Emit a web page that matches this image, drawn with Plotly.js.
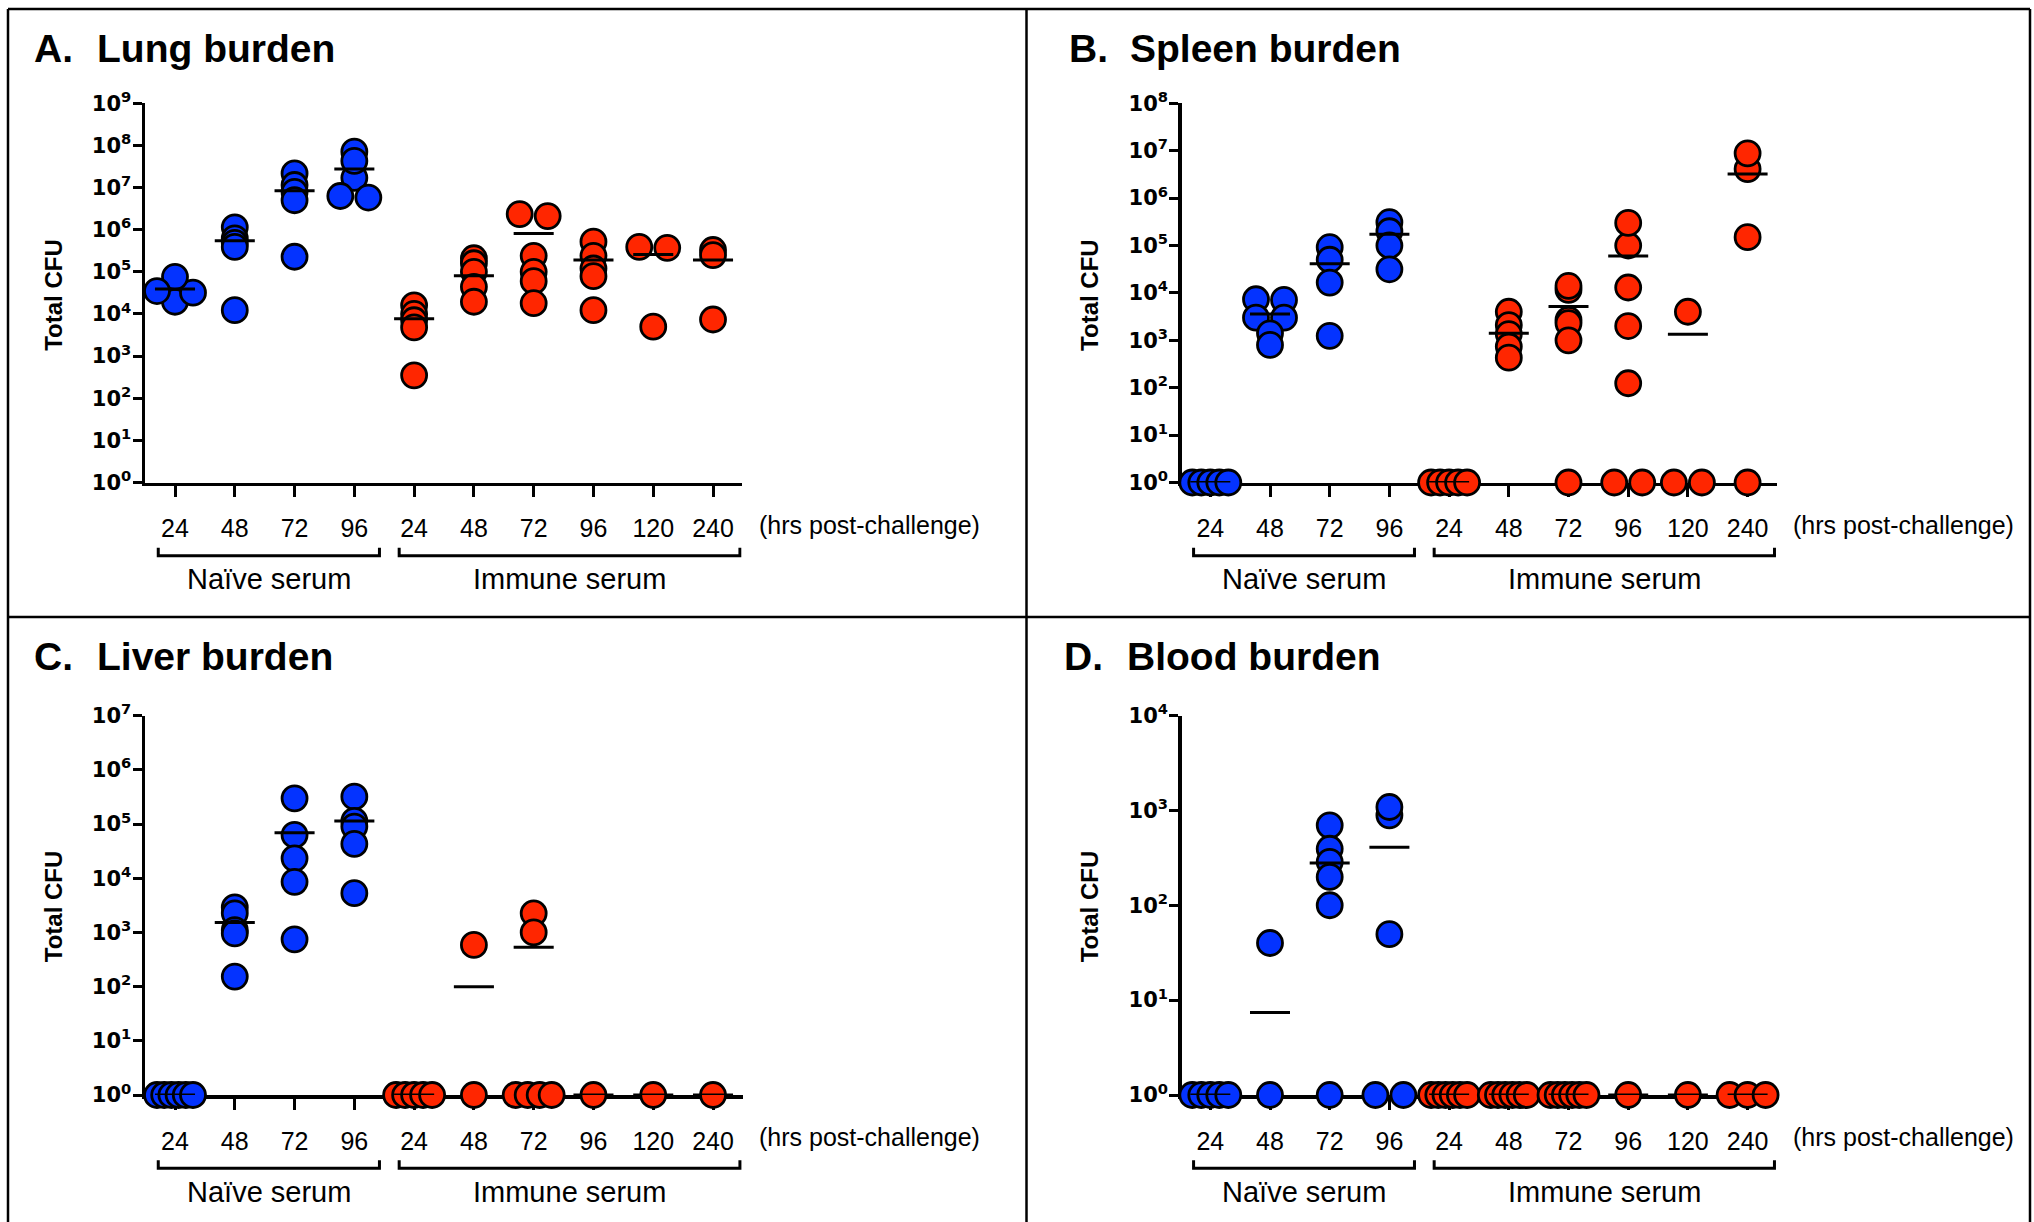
<!DOCTYPE html>
<html>
<head>
<meta charset="utf-8">
<script src="https://cdn.plot.ly/plotly-3.0.1.min.js"></script>
<style>
  html, body { margin: 0; padding: 0; background: #ffffff; }
  #chart { width: 2034px; height: 1222px; }
</style>
</head>
<body>
<div id="chart"></div>
<script>
// ---------------- DATA ----------------
const hours = ['24', '48', '72', '96', '24', '48', '72', '96', '120', '240'];
const serumGroups = ['Naïve serum', 'Immune serum'];
const naiveCount = 4;           // first 4 hour groups are naive serum

// A. Lung burden (total CFU per animal, one array per hour group)
const lungCFU = [
  [3.4e4, 5.2e4, 1.95e4, 3.2e4, 7.6e4, 3.5e4],
  [1.14e6, 6.2e5, 4.85e5, 3.9e5, 1.23e4],
  [2.17e7, 1.15e7, 7.9e6, 5.0e6, 2.28e5],
  [1.7e7, 7.1e7, 4.3e7, 5.8e6, 6.3e6],
  [1.6e4, 1.0e4, 7.1e3, 4.8e3, 350],
  [2.1e5, 1.6e5, 1.0e5, 4.4e4, 1.95e4],
  [2.1e6, 2.35e6, 2.4e5, 1.0e5, 6.0e4, 1.8e4],
  [5.2e5, 2.4e5, 1.2e5, 7.9e4, 1.23e4],
  [3.9e5, 3.7e5, 5.0e3],
  [3.3e5, 2.5e5, 7.4e3]
];
const lungMean = [3.9e4, 5.5e5, 8.4e6, 2.75e7, 7.7e3, 8.1e4, 8.1e5, 1.9e5, 2.57e5, 1.9e5];

// B. Spleen burden
const spleenCFU = [
  [1, 1, 1, 1, 1],
  [7.35e3, 7.1e3, 3.0e3, 3.0e3, 1.4e3, 800],
  [9.2e4, 5.0e4, 1.65e4, 1.24e3],
  [3.1e5, 2.0e5, 1.0e5, 3.15e4],
  [1, 1, 1, 1, 1],
  [4.0e3, 2.1e3, 1.35e3, 740, 430],
  [1.16e4, 1.4e4, 2.7e3, 2.3e3, 1.0e3, 1],
  [1.0e5, 3.0e5, 1.3e4, 2.0e3, 124, 1, 1],
  [4.0e3, 1, 1],
  [4.1e6, 8.8e6, 1.5e5, 1]
];
const spleenMean = [1, 3.6e3, 4.1e4, 1.73e5, 1, 1.4e3, 5.15e3, 6.0e4, 1.34e3, 3.24e6];

// C. Liver burden
const liverCFU = [
  [1, 1, 1, 1, 1, 1],
  [2.9e3, 2.25e3, 1.1e3, 960, 153],
  [2.99e5, 6.3e4, 2.33e4, 8.6e3, 747],
  [3.2e5, 1.15e5, 9.0e4, 4.3e4, 5.3e3],
  [1, 1, 1, 1, 1],
  [588, 1],
  [2.25e3, 1.0e3, 1, 1, 1, 1],
  [1],
  [1],
  [1]
];
const liverMean = [1, 1.52e3, 6.9e4, 1.14e5, 1, 100, 532, 1, 1, 1];

// D. Blood burden
const bloodCFU = [
  [1, 1, 1, 1, 1],
  [40, 1],
  [695, 394, 286, 199, 100, 1],
  [886, 1085, 49.6, 1, 1],
  [1, 1, 1, 1, 1, 1],
  [1, 1, 1, 1, 1, 1],
  [1, 1, 1, 1, 1, 1],
  [1],
  [1],
  [1, 1, 1]
];
const bloodMean = [1, 7.4, 279, 408, 1, 1, 1, 1, 1, 1];

const panelLetters = ['A.', 'B.', 'C.', 'D.'];
const panelTitles = ['Lung burden', 'Spleen burden', 'Liver burden', 'Blood burden'];
const yTitle = 'Total CFU';
const xNote = '(hrs post-challenge)';

// ---------------- LAYOUT / STYLE ----------------
const W = 2034, H = 1222;
const FONT = 'Liberation Sans, Arial, Helvetica, sans-serif';
const TICKFONT = 'DejaVu Sans, Liberation Sans, sans-serif';
const BLUE = '#0433FF', RED = '#FF2600';
const MARKER_SIZE = 25, MARKER_LINE = 2.8;
const MEAN_HALF = 0.335;        // half width of mean bar, in category units
const ROW_TOL = 3.0;            // px: points closer than this share a row
const ROW_STEP = 28;            // px: max spacing of points in a row
const ROW_SPAN = 36;            // px: max total width of a row

const panels = [
  { vals: lungCFU,   means: lungMean,   decades: 9, x0: 145,    x1: 741.7, c0: 175,    cstep: 59.78,
    yTop: 103.3, yBot: 482.5, letterX: 31.5, titleX: 95,   titleY: 48.9,  yTitleX: 53.2,   yTitleY: 294.6, noteX: 757 },
  { vals: spleenCFU, means: spleenMean, decades: 8, x0: 1181.7, x1: 1776.7, c0: 1210.3, cstep: 59.7,
    yTop: 103.3, yBot: 482.5, letterX: 1067, titleX: 1128, titleY: 48.9,  yTitleX: 1089.3, yTitleY: 294.6, noteX: 1791 },
  { vals: liverCFU,  means: liverMean,  decades: 7, x0: 145,    x1: 742.7, c0: 175,    cstep: 59.78,
    yTop: 715.7, yBot: 1095,  letterX: 31.5, titleX: 95,   titleY: 656.8, yTitleX: 53.2,   yTitleY: 906,   noteX: 757 },
  { vals: bloodCFU,  means: bloodMean,  decades: 4, x0: 1181.7, x1: 1778,  c0: 1210.3, cstep: 59.7,
    yTop: 715.5, yBot: 1095,  letterX: 1062, titleX: 1125, titleY: 656.8, yTitleX: 1089.3, yTitleY: 906,   noteX: 1791 }
];

// Horizontal spreading of points that share (almost) the same value
function swarmOffsets(vals, decPx) {
  const items = vals.map((v, i) => ({ i: i, y: Math.log10(v) * decPx }));
  items.sort((a, b) => b.y - a.y);
  const off = new Array(vals.length).fill(0);
  if (!items.length) return off;
  const rows = [];
  let row = [items[0]];
  for (let k = 1; k < items.length; k++) {
    if (row[row.length - 1].y - items[k].y < ROW_TOL) row.push(items[k]);
    else { rows.push(row); row = [items[k]]; }
  }
  rows.push(row);
  rows.forEach(r => {
    const n = r.length;
    if (n > 1) {
      const sp = Math.min(ROW_STEP, ROW_SPAN / (n - 1));
      r.forEach((it, j) => { off[it.i] = (j - (n - 1) / 2) * sp; });
    }
  });
  return off;
}

const px2X = x => x / W;
const px2Y = y => 1 - y / H;

const traces = [];
const meanTraces = [];
const shapes = [];
const annotations = [];
const layout = {
  width: W, height: H,
  margin: { l: 0, r: 0, t: 0, b: 0 },
  paper_bgcolor: '#ffffff', plot_bgcolor: 'rgba(0,0,0,0)',
  showlegend: false, hovermode: false,
  font: { family: FONT, color: '#000000', size: 25 }
};

panels.forEach((p, k) => {
  const sfx = k === 0 ? '' : String(k + 1);
  const xa = 'x' + sfx, ya = 'y' + sfx;
  const decPx = (p.yBot - p.yTop) / p.decades;
  const xr = [(p.x0 - p.c0) / p.cstep, (p.x1 - p.c0) / p.cstep];

  const bx = [], by = [], rx = [], ry = [];
  const mx = [], my = [];
  p.vals.forEach((grp, g) => {
    const off = swarmOffsets(grp, decPx);
    grp.forEach((v, i) => {
      const xv = g + off[i] / p.cstep;
      if (g < naiveCount) { bx.push(xv); by.push(v); } else { rx.push(xv); ry.push(v); }
    });
    mx.push(g - MEAN_HALF, g + MEAN_HALF, null);
    my.push(p.means[g], p.means[g], null);
  });

  const mk = c => ({ size: MARKER_SIZE, color: c, line: { color: '#000000', width: MARKER_LINE } });
  traces.push({ type: 'scatter', mode: 'markers', x: bx, y: by, xaxis: xa, yaxis: ya,
                marker: mk(BLUE), cliponaxis: false, hoverinfo: 'skip' });
  traces.push({ type: 'scatter', mode: 'markers', x: rx, y: ry, xaxis: xa, yaxis: ya,
                marker: mk(RED), cliponaxis: false, hoverinfo: 'skip' });
  meanTraces.push({ type: 'scatter', mode: 'lines', x: mx, y: my, xaxis: xa, yaxis: ya,
                    line: { color: '#000000', width: 3 }, cliponaxis: false, hoverinfo: 'skip',
                    connectgaps: false });

  const decVals = [], decText = [];
  for (let d = 0; d <= p.decades; d++) { decVals.push(Math.pow(10, d)); decText.push('10<sup>' + d + '</sup>'); }

  layout['xaxis' + sfx] = {
    domain: [px2X(p.x0), px2X(p.x1)], range: xr, anchor: ya,
    tickmode: 'array', tickvals: hours.map((_, i) => i), ticktext: hours,
    ticks: 'outside', ticklen: 11, tickwidth: 3, tickcolor: '#000000',
    showline: true, linewidth: 3.5, linecolor: '#000000',
    showgrid: false, zeroline: false, fixedrange: true, layer: 'below traces',
    tickfont: { family: FONT, size: 25, color: '#000000' },
    ticklabelstandoff: 10
  };
  layout['yaxis' + sfx] = {
    type: 'log', domain: [px2Y(p.yBot), px2Y(p.yTop)], range: [0, p.decades], anchor: xa,
    tickmode: 'array', tickvals: decVals, ticktext: decText,
    ticks: 'outside', ticklen: 9, tickwidth: 3, tickcolor: '#000000',
    showline: true, linewidth: 3.5, linecolor: '#000000',
    showgrid: false, zeroline: false, fixedrange: true, layer: 'below traces',
    tickfont: { family: TICKFONT, size: 21, color: '#000000', weight: 'bold' },
    ticklabelstandoff: -3
  };

  // Panel titles
  annotations.push({ xref: 'paper', yref: 'paper', x: px2X(p.letterX), y: px2Y(p.titleY),
    xanchor: 'left', yanchor: 'middle', showarrow: false, text: panelLetters[k],
    font: { family: FONT, size: 39, color: '#000000', weight: 'bold' } });
  annotations.push({ xref: 'paper', yref: 'paper', x: px2X(p.titleX), y: px2Y(p.titleY),
    xanchor: 'left', yanchor: 'middle', showarrow: false, text: panelTitles[k],
    font: { family: FONT, size: 39, color: '#000000', weight: 'bold' } });
  // Y title
  annotations.push({ xref: 'paper', yref: 'paper', x: px2X(p.yTitleX), y: px2Y(p.yTitleY),
    xanchor: 'center', yanchor: 'middle', showarrow: false, text: yTitle, textangle: -90,
    font: { family: FONT, size: 24, color: '#000000', weight: 'bold' } });
  // x note
  annotations.push({ xref: 'paper', yref: 'paper', x: px2X(p.noteX), y: px2Y(p.yBot + 42),
    xanchor: 'left', yanchor: 'middle', showarrow: false, text: xNote,
    font: { family: FONT, size: 25, color: '#000000' } });

  // Group brackets and labels
  const spans = [[-0.28, naiveCount - 1 + 0.42], [naiveCount - 0.25, hours.length - 1 + 0.45]];
  const yb = px2Y(p.yBot + 73.3), yc = px2Y(p.yBot + 65.3);
  spans.forEach((s, j) => {
    shapes.push({ type: 'path', xref: xa, yref: 'paper',
      path: 'M ' + s[0] + ',' + yc + ' L ' + s[0] + ',' + yb + ' L ' + s[1] + ',' + yb + ' L ' + s[1] + ',' + yc,
      line: { color: '#000000', width: 3 } });
    annotations.push({ xref: xa, yref: 'paper', x: (s[0] + s[1]) / 2, y: px2Y(p.yBot + 96.5),
      xanchor: 'center', yanchor: 'middle', showarrow: false, text: serumGroups[j],
      font: { family: FONT, size: 29, color: '#000000' } });
  });
});

// Frame lines around / between panels
const frame = [
  [8, 9, 2030, 9], [8, 617, 2030, 617],
  [8, 9, 8, 1222], [1026.5, 9, 1026.5, 1222], [2030, 9, 2030, 1222]
];
frame.forEach(f => shapes.push({ type: 'line', xref: 'paper', yref: 'paper',
  x0: px2X(f[0]), y0: px2Y(f[1]), x1: px2X(f[2]), y1: px2Y(f[3]),
  line: { color: '#000000', width: 2.5 } }));

layout.shapes = shapes;
layout.annotations = annotations;

Plotly.newPlot('chart', traces.concat(meanTraces), layout, { staticPlot: true, displayModeBar: false });
</script>
</body>
</html>
